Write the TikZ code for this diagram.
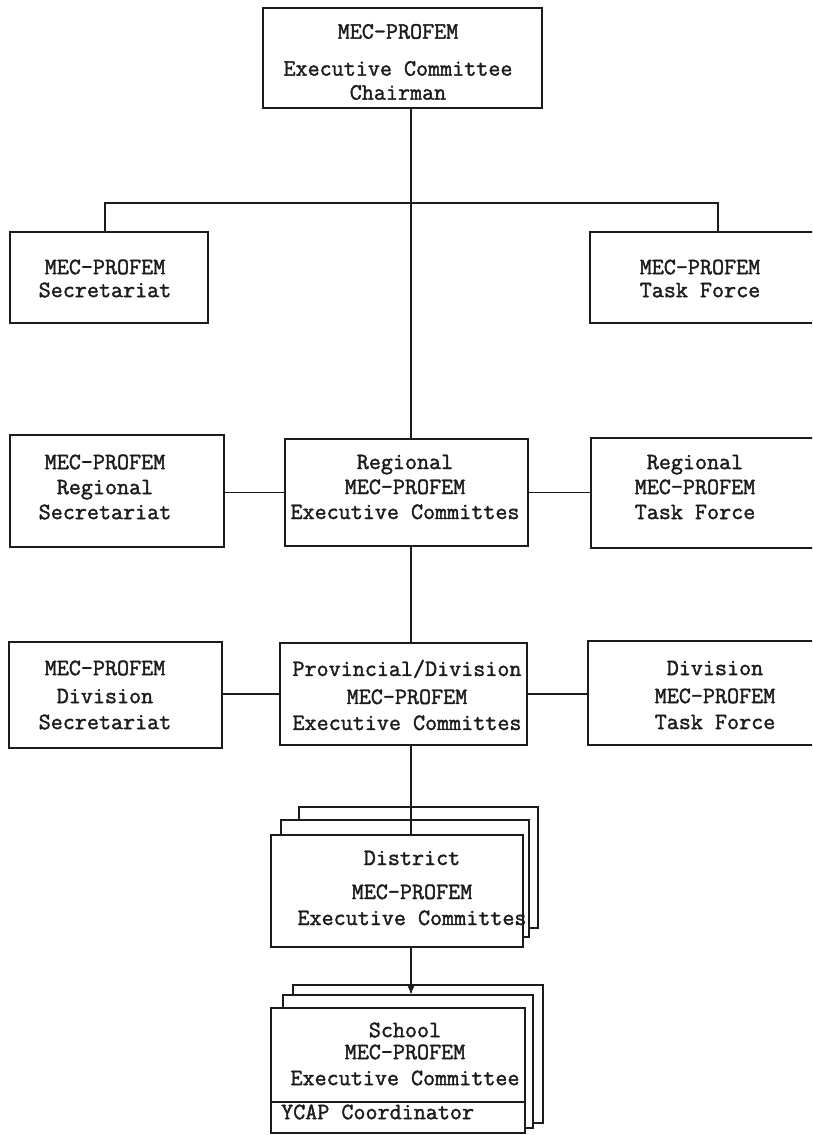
\documentclass[tikz,border=0pt]{standalone}
\usepackage{fontspec}
\newfontfamily\tw[FakeBold=1.6]{lmmono12-regular.otf}
\usetikzlibrary{arrows.meta}
\definecolor{ink}{HTML}{1C1C1C}
\begin{document}
\begin{tikzpicture}[x=1pt,y=-1pt,
  box/.style={draw=ink, line width=1.9pt, fill=white, inner sep=0pt, outer sep=0pt},
  lbl/.style={text=ink, font=\tw\fontsize{23.4}{24}\selectfont, align=center, inner sep=0pt},
  link/.style={draw=ink, line width=1.7pt},
  bar/.style={draw=ink, line width=2.6pt},
]
\path[use as bounding box] (0,0) rectangle (812,1135);
\clip (0,0) rectangle (812,1135);
\fill[white] (0,0) rectangle (812,1135);

% named coordinates for connector routing
\coordinate (spine) at (411,0);
\coordinate (jl) at (105,203);
\coordinate (jr) at (718,203);

% top level
\node[box, minimum width=279, minimum height=100] (top) at (402.5,58) {};
\node[box, minimum width=198, minimum height=91] (sec) at (109,277.5) {};
\node[box, minimum width=250, minimum height=91] (tf) at (715,277.5) {};

% regional level
\node[box, minimum width=214, minimum height=112] (rsec) at (117,491) {};
\node[box, minimum width=243, minimum height=107] (rexec) at (406.5,492.5) {};
\node[box, minimum width=249, minimum height=110] (rtf) at (715.5,493) {};

% division level
\node[box, minimum width=213, minimum height=106] (dsec) at (115.5,695) {};
\node[box, minimum width=247, minimum height=102] (prov) at (403.5,694) {};
\node[box, minimum width=252, minimum height=104] (dtf) at (714,693) {};

% district stack
\node[box, minimum width=239, minimum height=121] (dist3) at (418.5,867.5) {};
\node[box, minimum width=248, minimum height=117] (dist2) at (405,878.5) {};
\node[box, minimum width=252, minimum height=112] (dist) at (397,891) {};

% school stack
\node[box, minimum width=250, minimum height=138] (sch3) at (418,1054) {};
\node[box, minimum width=250, minimum height=133] (sch2) at (408,1061.5) {};
\node[box, minimum width=254, minimum height=125] (sch) at (398,1070.5) {};
\draw[box] (sch.west |- 0,1102) -- (sch.east |- 0,1102);

% connectors
\draw[link] (top.south -| spine) -- (rexec.north -| spine);
\draw[bar] (sec.north -| jl) -- (jl) -- (jr) -- (tf.north -| jr);
\draw[link] (rexec.west -| rsec.east) -- (rexec.west);
\draw[link] (rexec.east) -- (rexec.east -| rtf.west);
\draw[link] (rexec.south -| spine) -- (prov.north -| spine);
\draw[link] (prov.west -| dsec.east) -- (prov.west);
\draw[link] (prov.east) -- (prov.east -| dtf.west);
\draw[link] (prov.south -| spine) -- (dist.north -| spine);
\draw[link, -{Latex[length=9pt,width=7pt]}] (dist.south -| spine) -- (sch2.north -| spine);

% texts
\node[lbl] (top-t) at (398,62) {MEC-PROFEM\\[13pt]Executive Committee\\Chairman};
\node[lbl] (sec-t) at (105,278.5) {MEC-PROFEM\\[-1pt]Secretariat};
\node[lbl] (tf-t) at (700,278.5) {MEC-PROFEM\\[-1pt]Task Force};
\node[lbl] (rsec-t) at (105,487) {MEC-PROFEM\\[1pt]Regional\\[1pt]Secretariat};
\node[lbl] (rexec-t) at (405,487) {Regional\\[1pt]MEC-PROFEM\\[1pt]Executive Committes};
\node[lbl] (rtf-t) at (695,487) {Regional\\[1pt]MEC-PROFEM\\[1pt]Task Force};
\node[lbl] (dsec-t) at (105,695) {MEC-PROFEM\\[4pt]Division\\[2pt]Secretariat};
\node[lbl] (prov-t) at (407,695) {Provincial/Division\\[4pt]MEC-PROFEM\\[2pt]Executive Committes};
\node[lbl] (dtf-t) at (715,695) {Division\\[4pt]MEC-PROFEM\\[2pt]Task Force};
\node[lbl] (dist-t) at (412,888) {District\\[10pt]MEC-PROFEM\\[2pt]Executive Committes};
\node[lbl] (sch-t) at (405,1054) {School\\[-2pt]MEC-PROFEM\\[2pt]Executive Committee};
\node[lbl, anchor=west] (ycap-t) at (281,1112) {YCAP Coordinator};
\end{tikzpicture}
\end{document}
